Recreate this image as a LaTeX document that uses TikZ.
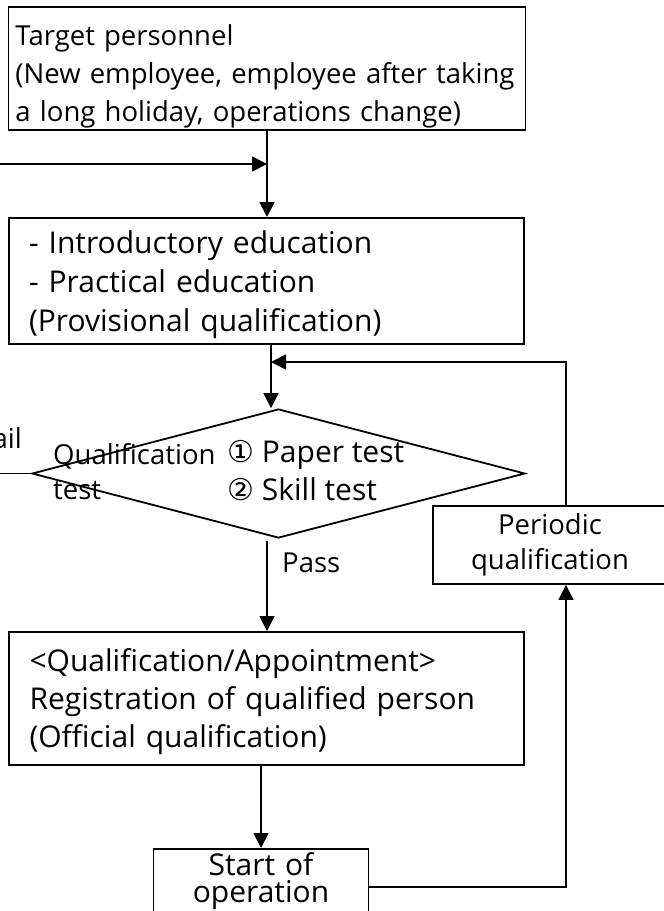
\documentclass[tikz,border=0pt]{standalone}
\usepackage{fontspec}
\setmainfont{Open Sans}
\newfontfamily\symfont{DejaVu Sans}
\usetikzlibrary{arrows.meta,shapes.geometric}
\begin{document}
\begin{tikzpicture}[x=1pt,y=-1pt,
  box/.style={draw,line width=1.8pt,rectangle,inner sep=0pt},
  txt/.style={font=\fontsize{27.5}{38}\selectfont},
  bigtxt/.style={font=\fontsize{30}{39}\selectfont},
  arr/.style={line width=1.8pt,-{Triangle[length=15pt,width=15pt]}},
  ln/.style={line width=1.8pt}]
\useasboundingbox (0,0) rectangle (664,911);
\clip (0,0) rectangle (664,911);
% boxes
\node[box,txt,anchor=north,minimum width=517pt,text width=503pt,align=left,text height=39pt,text depth=84pt] (target) at (267,6)
  {Target personnel\\(New employee, employee after taking\\a long holiday, operations change)};
\node[box,bigtxt,anchor=north,minimum width=515pt,text width=475pt,align=left,text height=36pt,text depth=90pt] (box2) at (266.5,217)
  {- Introductory education\\- Practical education\\(Provisional qualification)};
\node[draw,diamond,line width=1.8pt,minimum width=493pt,minimum height=129pt,inner sep=0pt] (test) at (278.5,473.5) {};
\node[box,anchor=north,minimum width=515pt,text width=474pt,align=left,text height=40pt,text depth=93pt,font=\fontsize{30}{38}\selectfont] (box3) at (266.5,631)
  {<Qualification/Appointment>\\\makebox[474pt][s]{Registration of qualified person}\\(Official qualification)};
\node[box,minimum width=234pt,minimum height=78pt,align=center,font=\fontsize{27.5}{35}\selectfont] (periodic) at (550,545)
  {Periodic\\qualification};
\node[box,text width=215pt,anchor=north,align=center,text height=27pt,text depth=60pt,font=\fontsize{30}{27}\selectfont] (start) at (261,848)
  {Start of\\operation};
% labels
\node[anchor=west,align=left,inner sep=0pt,font=\fontsize{27.5}{35}\selectfont] (qt) at (53,472) {Qualification\\test};
\node[anchor=west,align=left,inner sep=0pt,font=\fontsize{30}{38}\selectfont] (tests) at (227,471) {{\symfont ①} Paper test\\{\symfont ②} Skill test};
\node[txt,anchor=east,inner sep=0pt] (fail) at (22,438) {Fail};
\node[txt,anchor=west,inner sep=0pt] (pass) at (282,563) {Pass};
% connectors
\coordinate (lin) at (-20,164);
\coordinate (down) at (271,0);
\coordinate (feed) at (566,362);
\coordinate (passx) at (267,541);
\coordinate (corner) at (566,887);
\draw[arr] (lin) -- (lin -| target.south);
\draw[arr] (target.south) -- (target.south |- box2.north);
\draw[arr] (box2.south -| down) -- (down |- test.north);
\draw[arr] (periodic.north -| feed) -- (feed) -- (feed -| down);
\draw[ln] (test.west) -- ++(-60,0);
\draw[arr] (passx) -- (passx |- box3.north);
\draw[arr] (box3.south -| start.north) -- (start.north);
\draw[arr] (start.east |- corner) -- (corner) -- (corner |- periodic.south);
\end{tikzpicture}
\end{document}
